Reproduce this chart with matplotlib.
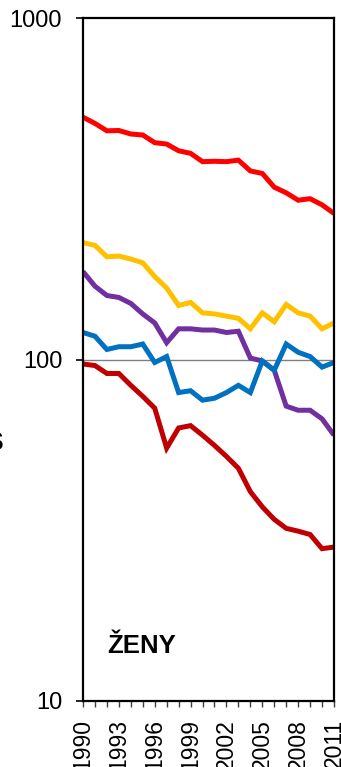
import matplotlib
matplotlib.use("Agg")
import matplotlib.pyplot as plt
from matplotlib.ticker import FixedLocator, NullLocator, FixedFormatter

plt.rcParams['font.family'] = ['Liberation Sans', 'DejaVu Sans']

years = list(range(1990, 2012))

red = [513, 492, 468, 469, 458, 455, 432, 428, 409, 402, 380, 381, 380, 384,
       357, 351, 320, 308, 293, 296, 284, 268]
yellow = [220, 216, 200, 201, 197, 192, 175, 162, 144, 147, 137, 136, 134, 132,
          123, 137, 129, 145, 137, 134, 123, 128]
purple = [181, 164, 154, 152, 146, 136, 128, 112, 123, 123, 122, 122, 120, 121,
          101, 99, 93, 73, 71, 71, 67, 60]
blue = [120, 117, 107, 109, 109, 111, 98, 102, 80, 81, 76, 77, 80, 84,
        80, 99, 93, 111, 105, 102, 95, 98]
darkred = [97, 96, 91, 91, 84, 78, 72, 55, 63, 64, 60, 56, 52, 48,
           41, 37, 34, 32, 31.4, 30.7, 27.9, 28.2]

series = [(red, '#FF0000'), (yellow, '#FFC000'), (purple, '#7030A0'),
          (blue, '#0070C0'), (darkred, '#C00000')]

label_years = years[::3]
y_ticks = [10, 100, 1000]
y_labels = ['10', '100', '1000']
panel_label = 'ŽENY'

fig = plt.figure(figsize=(3.41, 7.67), dpi=100)
ax = fig.add_axes([83/341, 1 - 700.7/767, (334-83)/341, (700.7-18.3)/767])

ax.axhline(100, color='#808080', lw=1.0, zorder=1)
for vals, col in series:
    ax.plot(years, vals, color=col, lw=3.6, solid_capstyle='butt',
            solid_joinstyle='miter', zorder=3)

ax.set_yscale('log')
ax.set_ylim(10, 1000)
ax.set_xlim(1990, 2011)
ax.yaxis.set_major_locator(FixedLocator(y_ticks))
ax.yaxis.set_major_formatter(FixedFormatter(y_labels))
ax.yaxis.set_minor_locator(NullLocator())
ax.xaxis.set_major_locator(FixedLocator(years))
ax.set_xticklabels([str(y) if y in label_years else '' for y in years],
                   rotation=90)
ax.tick_params(axis='y', direction='out', length=5, width=1.2, pad=10,
               labelsize=17, color='black')
ax.tick_params(axis='x', direction='out', length=4, width=1.0, pad=9,
               labelsize=16.5, color='#404040')
for lab in ax.get_xticklabels():
    lab.set_va('top')

for s in ax.spines.values():
    s.set_linewidth(1.6)
    s.set_color('black')
    s.set_zorder(4)

ax.text(0.095, 0.08, panel_label, transform=ax.transAxes, fontsize=18.5,
        fontweight='bold', ha='left', va='center')

fig.text(3/341, 1 - 443/767, 'S', fontsize=18, fontweight='bold',
         ha='right', va='center')

fig.savefig('out.png', dpi=100)
